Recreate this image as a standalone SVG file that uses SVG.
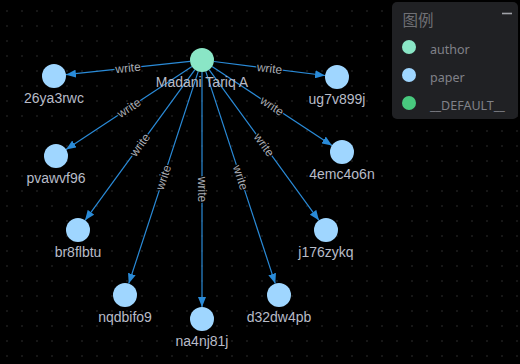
<svg xmlns="http://www.w3.org/2000/svg" width="520" height="364" viewBox="0 0 520 364">
<defs>
<pattern id="grid" patternUnits="userSpaceOnUse" x="0" y="0" width="15" height="15">
<circle cx="7" cy="11" r="0.7" fill="#3c3c3c"/>
</pattern>
<marker id="arr" viewBox="0 0 10 8" refX="10" refY="4" markerWidth="10" markerHeight="8" markerUnits="userSpaceOnUse" orient="auto">
<path d="M0,0 L10,4 L0,8 z" fill="#2a8bd8"/>
</marker>
<style>
.edge{stroke:#2a8bd8;stroke-width:1.2;fill:none;marker-end:url(#arr)}
.el{font-family:"Liberation Sans",Arial,sans-serif;font-size:12px;fill:#a9acb3;stroke:#000;stroke-width:2.5px;paint-order:stroke;text-anchor:middle;dominant-baseline:central}
.nl{font-family:"Liberation Sans",Arial,sans-serif;font-size:14px;fill:#b8bcc8;text-anchor:middle}
.author{fill:#8ae6c6}
.paper{fill:#9fd6ff}
.lg{font-family:"Noto Sans","DejaVu Sans",sans-serif;font-size:12.5px;fill:#808289}
</style>
</defs>
<rect width="520" height="364" fill="#000"/>
<rect width="520" height="364" fill="url(#grid)"/>
<g id="connectors">
<line class="edge" x1="190.07" y1="61.29" x2="65.93" y2="74.71"/>
<line class="edge" x1="213.91" y1="61.5" x2="325.09" y2="75.5"/>
<line class="edge" x1="191.97" y1="66.59" x2="66.03" y2="149.41"/>
<line class="edge" x1="212.03" y1="66.59" x2="331.97" y2="145.41"/>
<line class="edge" x1="194.93" y1="69.69" x2="85.07" y2="220.31"/>
<line class="edge" x1="209.07" y1="69.69" x2="318.93" y2="220.31"/>
<line class="edge" x1="198.26" y1="71.4" x2="128.74" y2="283.6"/>
<line class="edge" x1="202" y1="72" x2="202" y2="307"/>
<line class="edge" x1="205.74" y1="71.4" x2="275.26" y2="283.6"/>
<text class="el" transform="translate(128,68) rotate(-6.17)">write</text>
<text class="el" transform="translate(269.5,68.5) rotate(7.18)">write</text>
<text class="el" transform="translate(129,108) rotate(-33.33)">write</text>
<text class="el" transform="translate(272,106) rotate(33.31)">write</text>
<text class="el" transform="translate(140,145) rotate(-53.89)">write</text>
<text class="el" transform="translate(264,145) rotate(53.89)">write</text>
<text class="el" transform="translate(163.5,177.5) rotate(-71.86)">write</text>
<text class="el" transform="translate(202,189.5) rotate(90)">write</text>
<text class="el" transform="translate(240.5,177.5) rotate(71.86)">write</text>
</g>
<g id="n-madani"><circle class="author" cx="202" cy="60" r="12"/><text class="nl" x="202" y="87">Madani Tariq A</text></g>
<g id="n-26ya3rwc"><circle class="paper" cx="54" cy="76" r="12"/><text class="nl" x="54" y="103">26ya3rwc</text></g>
<g id="n-ug7v899j"><circle class="paper" cx="337" cy="77" r="12"/><text class="nl" x="337" y="104">ug7v899j</text></g>
<g id="n-pvawvf96"><circle class="paper" cx="56" cy="156" r="12"/><text class="nl" x="56" y="183">pvawvf96</text></g>
<g id="n-4emc4o6n"><circle class="paper" cx="342" cy="152" r="12"/><text class="nl" x="342" y="179">4emc4o6n</text></g>
<g id="n-br8flbtu"><circle class="paper" cx="78" cy="230" r="12"/><text class="nl" x="78" y="257">br8flbtu</text></g>
<g id="n-j176zykq"><circle class="paper" cx="326" cy="230" r="12"/><text class="nl" x="326" y="257">j176zykq</text></g>
<g id="n-nqdbifo9"><circle class="paper" cx="125" cy="295" r="12"/><text class="nl" x="125" y="322">nqdbifo9</text></g>
<g id="n-na4nj81j"><circle class="paper" cx="202" cy="319" r="12"/><text class="nl" x="202" y="346">na4nj81j</text></g>
<g id="n-d32dw4pb"><circle class="paper" cx="279" cy="295" r="12"/><text class="nl" x="279" y="322">d32dw4pb</text></g>
<g id="legend">
<rect x="392" y="2" width="126" height="117" rx="5" fill="#202124"/>
<text x="402.5" y="26" font-family="'Noto Sans CJK SC',sans-serif" font-size="15.5" fill="#6f7075">图例</text>
<line x1="502" y1="13.5" x2="512" y2="13.5" stroke="#a0a2a8" stroke-width="1.6"/>
<circle cx="409" cy="47" r="7" fill="#8ae6c6"/>
<text class="lg" x="430" y="54">author</text>
<circle cx="409" cy="75" r="7" fill="#9fd6ff"/>
<text class="lg" x="430" y="82">paper</text>
<circle cx="409" cy="103" r="7" fill="#48c97e"/>
<text class="lg" x="430" y="110">__DEFAULT__</text>
</g>
</svg>
